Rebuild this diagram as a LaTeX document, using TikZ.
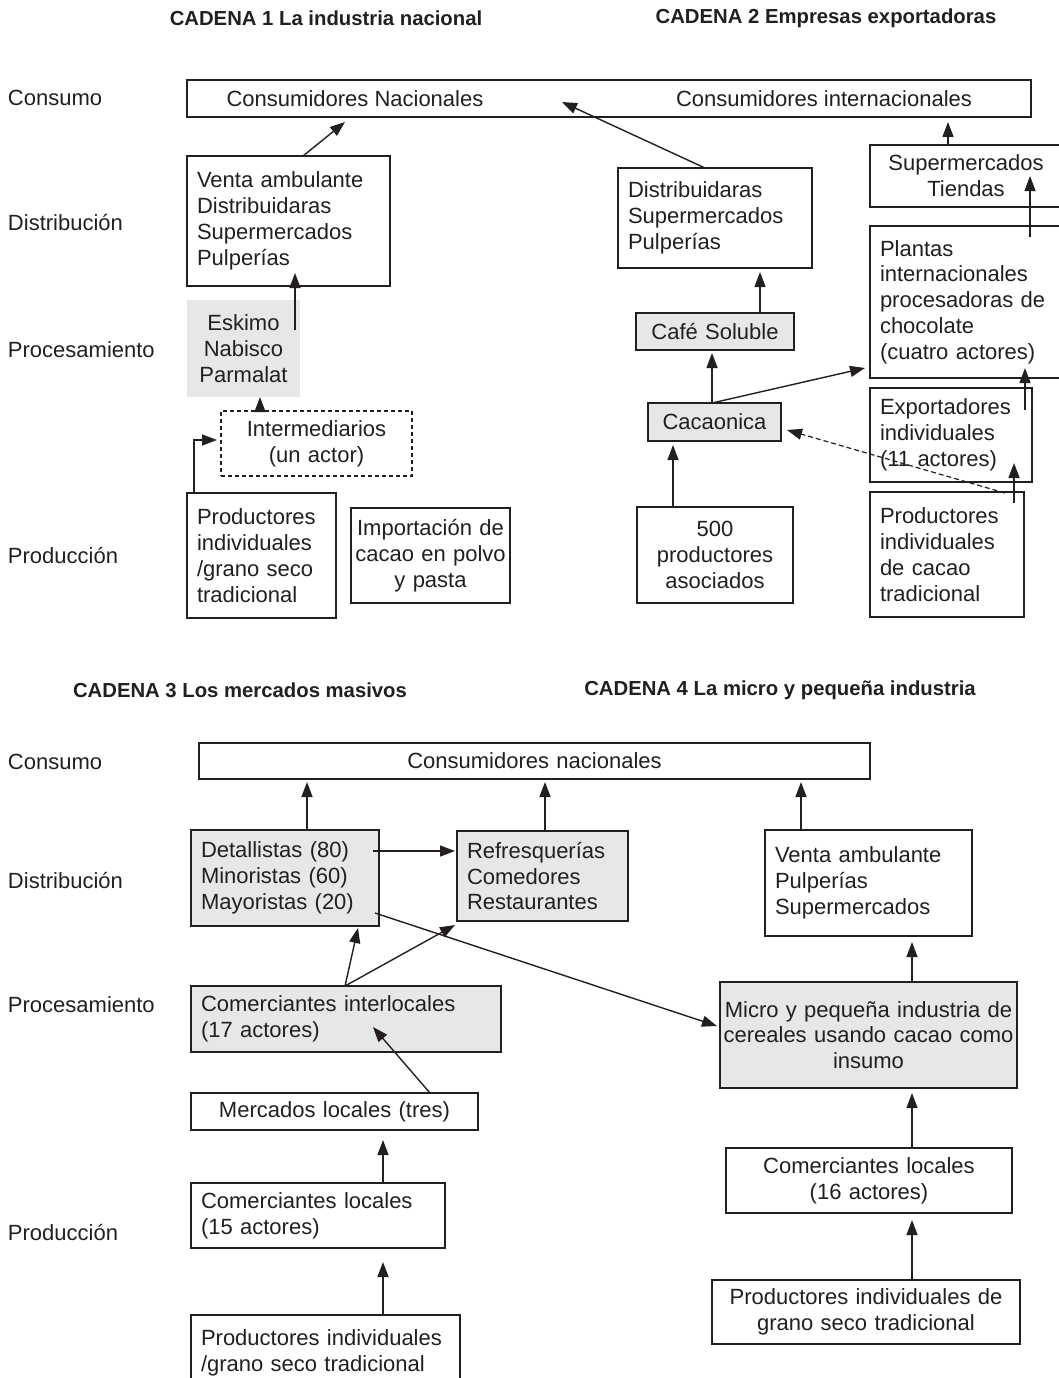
\documentclass[tikz,border=0pt]{standalone}
\usepackage{fontspec}
\setmainfont{Liberation Sans}
\usetikzlibrary{arrows.meta,calc}
\definecolor{ink}{HTML}{231F20}
\definecolor{shade}{HTML}{E6E7E8}
\begin{document}
\begin{tikzpicture}[x=1pt,y=-1pt,
  every node/.style={text=ink, outer sep=0pt},
  body/.style={font=\fontsize{22}{25.8}\selectfont},
  ttl/.style={font=\bfseries\fontsize{20.3}{23}\selectfont},
  rowlbl/.style={body, anchor=west, inner sep=0pt},
  box/.style={body, draw=ink, line width=1.4pt, fill=white, anchor=north west,
              inner xsep=10pt, inner ysep=0pt},
  lbox/.style={box, align=left},
  cbox/.style={box, align=center},
  gbox/.style={fill=shade},
  arr/.style={draw=ink, line width=1.4pt, -{Triangle[length=15pt,width=11pt]}},
  darr/.style={arr, line width=1.2pt, dash pattern=on 5pt off 3pt}]

\useasboundingbox (0,0) rectangle (1059,1378);
\clip (0,0) rectangle (1059,1378);

% ---------- chain titles ----------
\node[ttl] (t1) at (326,18) {CADENA 1 La industria nacional};
\node[ttl] (t2) at (826,18) {CADENA 2 Empresas exportadoras};
\node[ttl] (t3) at (240,690) {CADENA 3 Los mercados masivos};
\node[ttl] (t4) at (780,690) {CADENA 4 La micro y pequeña industria};

% ---------- stage labels ----------
\node[rowlbl] (r1) at (8,98)  {Consumo};
\node[rowlbl] (r2) at (8,223) {Distribución};
\node[rowlbl] (r3) at (8,350) {Procesamiento};
\node[rowlbl] (r4) at (8,556) {Producción};
\node[rowlbl] (r5) at (8,762) {Consumo};
\node[rowlbl] (r6) at (8,880) {Distribución};
\node[rowlbl] (r7) at (8,1005) {Procesamiento};
\node[rowlbl] (r8) at (8,1232) {Producción};

% ---------- chains 1 and 2 ----------
\node[box, minimum width=844pt, minimum height=37pt] (cons) at (187,80) {};
\node[body, inner sep=0pt] (consnac) at (355,99) {Consumidores Nacionales};
\node[body, inner sep=0pt] (consint) at (824,99) {Consumidores internacionales};

\node[lbox, minimum width=203pt, text width=183pt, minimum height=130pt] (venta1) at (187,156)
  {Venta ambulante\\Distribuidaras\\Supermercados\\Pulperías};
\node[cbox, draw=none, gbox, minimum width=113pt, text width=100pt, inner xsep=6.5pt, minimum height=97pt] (eskimo) at (187,300)
  {Eskimo\\Nabisco\\Parmalat};
\node[cbox, line width=1.2pt, dash pattern=on 4pt off 3pt, minimum width=191pt, text width=171pt, minimum height=65pt] (inter) at (221,411)
  {Intermediarios\\(un actor)};
\node[lbox, minimum width=149pt, text width=129pt, minimum height=125pt] (prod1) at (187,493)
  {Productores\\individuales\\/grano seco\\tradicional};
\node[cbox, minimum width=159pt, text width=155pt, inner xsep=2pt, minimum height=95pt] (import) at (351,508)
  {Importación de\\cacao en polvo\\y pasta};

\node[lbox, minimum width=194pt, text width=174pt, minimum height=100pt] (distr2) at (618,168)
  {Distribuidaras\\Supermercados\\Pulperías};
\node[cbox, gbox, minimum width=158pt, text width=138pt, minimum height=37pt] (cafe) at (636,313) {Café Soluble};
\node[cbox, gbox, minimum width=133pt, text width=113pt, minimum height=38pt] (cacao) at (648,403) {Cacaonica};
\node[cbox, minimum width=156pt, text width=136pt, minimum height=96pt] (prod500) at (637,507)
  {500\\productores\\asociados};

\node[cbox, minimum width=192pt, text width=172pt, minimum height=62pt] (super) at (870,145)
  {Supermercados\\Tiendas};
\node[lbox, minimum width=200pt, text width=180pt, minimum height=152pt] (plantas) at (870,226)
  {Plantas\\internacionales\\procesadoras de\\chocolate\\(cuatro actores)};
\node[lbox, minimum width=162pt, text width=142pt, minimum height=94pt] (export) at (870,388)
  {Exportadores\\individuales\\(11 actores)};
\node[lbox, minimum width=154pt, text width=134pt, minimum height=125pt] (prod2) at (870,492)
  {Productores\\individuales\\de cacao\\tradicional};

% connectors, chain 1
\draw[arr] ($(venta1.north west)+(116,0)$) -- ($(cons.south west)+(158,5)$);
\draw[arr] ($(eskimo.north west)+(108,30)$) -- ($(venta1.south west)+(108,-13)$);
\draw[arr] ($(inter.north west)+(39,0)$) -- ($(eskimo.south west)+(73,0)$);
\draw[arr] ($(prod1.north west)+(7,0)$) |- ($(inter.west)+(-4,-3.5)$);

% connectors, chain 2
\draw[arr] ($(distr2.north west)+(87,0)$) -- ($(cons.south west)+(375,-15)$);
\draw[arr] ($(cafe.north west)+(124,0)$) -- ($(distr2.south west)+(142,4)$);
\draw[arr] ($(cacao.north west)+(64,0)$) -- ($(cafe.south west)+(76,3)$);
\draw[arr] ($(cacao.north west)+(64,0)$) -- ($(plantas.south west)+(-5,-10)$);
\draw[arr] ($(prod500.north west)+(36,0)$) -- ($(cacao.south west)+(25,4)$);
\draw[darr] ($(prod2.north west)+(135,1)$) -- ($(cacao.east)+(6,8)$);
\draw[arr] ($(super.north west)+(78,0)$) -- ($(cons.south west)+(761,5)$);
\draw[arr] ($(plantas.north west)+(160,11)$) -- ($(super.south west)+(160,-31)$);
\draw[arr] ($(export.north west)+(155,22)$) -- ($(plantas.south west)+(155,-10)$);
\draw[arr] ($(prod2.north west)+(144,11)$) -- ($(export.south west)+(144,-19)$);

% ---------- chains 3 and 4 ----------
\node[cbox, minimum width=671pt, text width=651pt, minimum height=36pt] (consn) at (199,743) {Consumidores nacionales};

\node[lbox, gbox, minimum width=188pt, text width=168pt, minimum height=96pt] (det) at (191,830)
  {Detallistas (80)\\Minoristas (60)\\Mayoristas (20)};
\node[lbox, gbox, minimum width=171pt, text width=151pt, minimum height=90pt] (refr) at (457,831)
  {Refresquerías\\Comedores\\Restaurantes};
\node[lbox, gbox, minimum width=310pt, text width=290pt, minimum height=66pt] (inter3) at (191,986)
  {Comerciantes interlocales\\(17 actores)};
\node[cbox, minimum width=287pt, text width=267pt, minimum height=37pt] (merc) at (191,1093)
  {Mercados locales (tres)};
\node[lbox, minimum width=254pt, text width=234pt, minimum height=65pt] (com15) at (191,1183)
  {Comerciantes locales\\(15 actores)};
\node[lbox, minimum width=269pt, text width=249pt, minimum height=75pt] (prod3) at (191,1315)
  {Productores individuales\\/grano seco tradicional};

\node[lbox, minimum width=207pt, text width=187pt, minimum height=106pt] (venta4) at (765,830)
  {Venta ambulante\\Pulperías\\Supermercados};
\node[cbox, gbox, minimum width=297pt, text width=293pt, inner xsep=2pt, minimum height=106pt] (micro) at (720,982)
  {Micro y pequeña industria de\\cereales usando cacao como\\insumo};
\node[cbox, minimum width=286pt, text width=266pt, minimum height=65pt] (com16) at (726,1148)
  {Comerciantes locales\\(16 actores)};
\node[cbox, minimum width=308pt, text width=296pt, inner xsep=6pt, minimum height=64pt] (prod4) at (712,1280)
  {Productores individuales de\\grano seco tradicional};

% connectors, chain 3
\draw[arr] ($(det.north west)+(116,0)$) -- ($(consn.south west)+(108,3)$);
\draw[arr] ($(refr.north west)+(88,0)$) -- ($(consn.south west)+(346,3)$);
\draw[arr] ($(det.north west)+(182,21)$) -- ($(refr.north west)+(-2,20)$);
\draw[arr] ($(det.north west)+(184,83)$) -- ($(micro.north west)+(-3,44)$);
\draw[arr] ($(inter3.north west)+(154,0)$) -- ($(det.south west)+(167,2)$);
\draw[arr] ($(inter3.north west)+(154,0)$) -- ($(refr.south west)+(-2,4)$);
\draw[arr] ($(merc.north west)+(239,0)$) -- ($(inter3.north west)+(182,41)$);
\draw[arr] ($(com15.north west)+(192,0)$) -- ($(merc.south west)+(192,10)$);
\draw[arr] ($(prod3.north west)+(192,0)$) -- ($(com15.south west)+(192,14)$);

% connectors, chain 4
\draw[arr] ($(venta4.north west)+(36,0)$) -- ($(consn.south west)+(602,3)$);
\draw[arr] ($(micro.north west)+(192,0)$) -- ($(venta4.south west)+(147,6)$);
\draw[arr] ($(com16.north west)+(186,0)$) -- ($(micro.south west)+(192,5)$);
\draw[arr] ($(prod4.north west)+(200,0)$) -- ($(com16.south west)+(186,7)$);
\end{tikzpicture}
\end{document}
